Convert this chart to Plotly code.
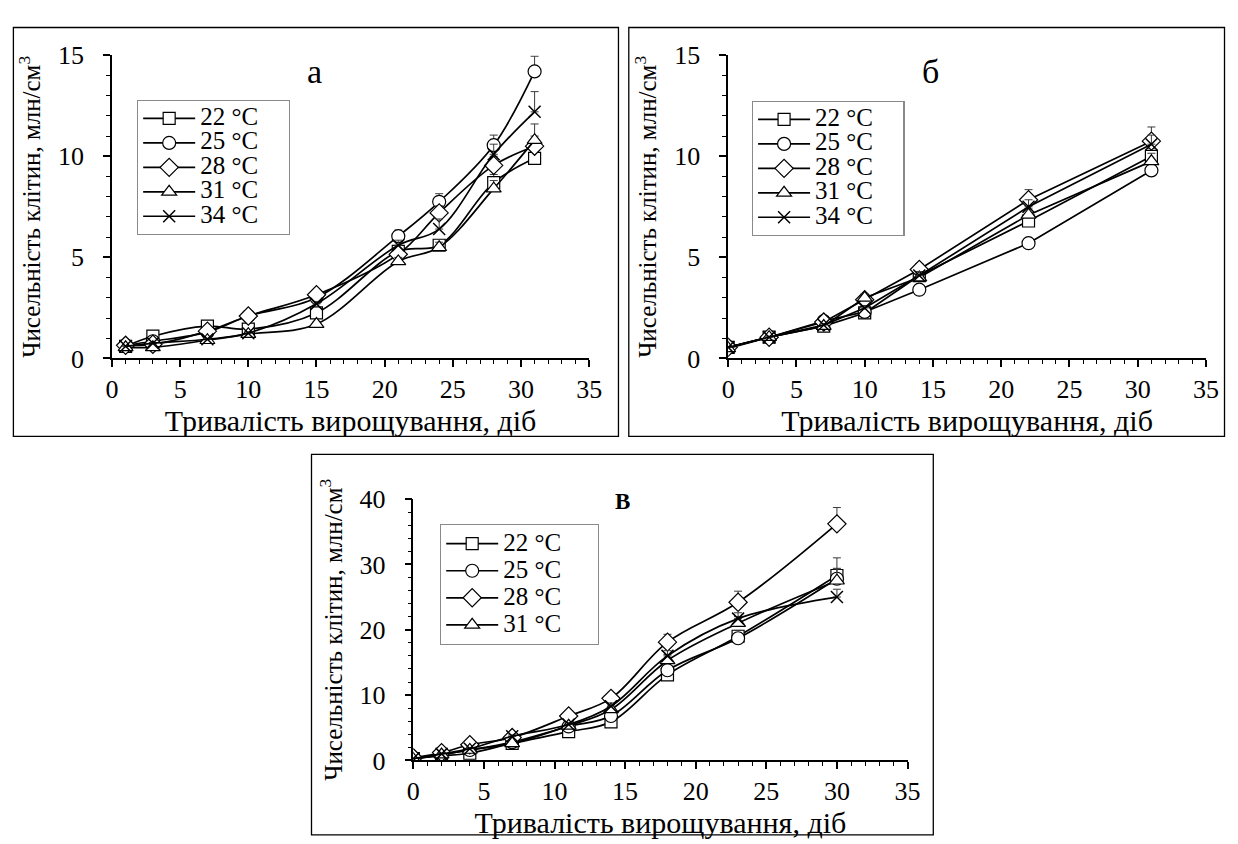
import plotly.graph_objects as go

# ---------------- data ----------------
temps = ["22 °C", "25 °C", "28 °C", "31 °C", "34 °C"]

# panel а
days_a = [1, 3, 7, 10, 15, 21, 24, 28, 31]
a_22 = [0.6, 1.1, 1.6, 1.45, 2.25, 5.3, 5.6, 8.7, 9.9]
a_25 = [0.65, 0.85, 1.3, 2.1, 3.0, 6.05, 7.75, 10.55, 14.2]
a_28 = [0.65, 0.7, 1.35, 2.1, 3.15, 5.15, 7.2, 9.55, 10.5]
a_31 = [0.55, 0.55, 0.9, 1.2, 1.7, 4.8, 5.5, 8.4, 10.8]
a_34 = [0.6, 0.75, 0.95, 1.25, 2.7, 5.6, 6.4, 10.1, 12.2]
a_err_22 = [0.03, 0.05, 0.08, 0.07, 0.1, 0.2, 0.25, 0.4, 0.3]
a_err_25 = [0.03, 0.05, 0.07, 0.1, 0.15, 0.3, 0.4, 0.5, 0.75]
a_err_28 = [0.03, 0.04, 0.07, 0.1, 0.15, 0.25, 0.35, 0.45, 0.5]
a_err_31 = [0.03, 0.03, 0.05, 0.06, 0.1, 0.2, 0.25, 0.4, 0.8]
a_err_34 = [0.03, 0.04, 0.05, 0.07, 0.12, 0.25, 0.5, 0.5, 1.0]

# panel б
days_b = [0, 3, 7, 10, 14, 22, 31]
b_22 = [0.55, 1.05, 1.6, 2.25, 4.1, 6.8, 10.0]
b_25 = [0.55, 1.05, 1.85, 2.3, 3.4, 5.7, 9.3]
b_28 = [0.55, 1.05, 1.8, 2.9, 4.4, 7.85, 10.75]
b_31 = [0.5, 1.05, 1.6, 3.0, 4.0, 7.1, 9.75]
b_34 = [0.55, 1.05, 1.65, 2.5, 4.1, 7.5, 10.6]
b_err_22 = [0.03, 0.05, 0.08, 0.1, 0.2, 0.3, 0.4]
b_err_25 = [0.03, 0.05, 0.08, 0.1, 0.15, 0.25, 0.35]
b_err_28 = [0.03, 0.05, 0.08, 0.15, 0.3, 0.5, 0.7]
b_err_31 = [0.03, 0.05, 0.08, 0.2, 0.2, 0.3, 0.4]
b_err_34 = [0.03, 0.05, 0.08, 0.12, 0.2, 0.35, 0.45]

# panel в
days_c = [0, 2, 4, 7, 11, 14, 18, 23, 30]
c_22 = [0.3, 0.7, 1.1, 2.6, 4.4, 5.9, 13.1, 19.0, 28.3]
c_25 = [0.3, 0.9, 1.6, 2.8, 5.2, 6.8, 13.8, 18.7, 27.8]
c_28 = [0.4, 1.2, 2.4, 3.5, 6.8, 9.5, 18.1, 24.2, 36.2]
c_31 = [0.2, 0.9, 1.6, 2.6, 5.3, 7.8, 15.3, 21.0, 27.5]
c_34 = [0.3, 1.0, 1.8, 3.7, 5.5, 8.3, 16.0, 21.7, 25.0]
c_err_22 = [0.05, 0.1, 0.15, 0.2, 0.3, 0.4, 0.7, 0.9, 2.7]
c_err_25 = [0.05, 0.1, 0.15, 0.2, 0.3, 0.4, 0.7, 0.8, 1.5]
c_err_28 = [0.05, 0.1, 0.2, 0.3, 0.4, 0.6, 1.2, 1.7, 2.5]
c_err_31 = [0.05, 0.1, 0.15, 0.2, 0.3, 0.5, 0.9, 1.0, 1.9]
c_err_34 = [0.05, 0.1, 0.15, 0.2, 0.3, 0.5, 0.8, 0.9, 1.2]

x_title = "Тривалість вирощування, діб"
y_title = "Чисельність клітин, млн/см<sup>3</sup>"
panel_labels = ["а", "б", "В"]

# ---------------- style ----------------
FONT = "Liberation Serif"
symbols = ["square", "circle", "diamond", "triangle-up", "x-thin"]
sizes = [12, 13, 14, 13, 12]

fig = go.Figure()

def legend_name(t, pad):
    # larger visible text, compact row height from the legend font
    return "<span style='font-size:25px'>" + t + "\u00a0" * pad + "</span>"

def add_series(xs, ys, errs, idx, xa, ya, legend, shape, pad, showlegend=True):
    sym = symbols[idx]
    if sym == "x-thin":
        marker = dict(symbol=sym, size=sizes[idx], color="black",
                      line=dict(color="black", width=1.5))
    else:
        marker = dict(symbol=sym, size=sizes[idx], color="white",
                      line=dict(color="black", width=1.2))
    fig.add_trace(go.Scatter(
        x=xs, y=ys, name=legend_name(temps[idx], pad), mode="lines+markers",
        line=dict(color="black", width=1.7, shape=shape),
        marker=marker,
        error_y=dict(type="data", array=errs, arrayminus=[0] * len(errs),
                     symmetric=False, color="#3a3a3a", thickness=1, width=4),
        xaxis=xa, yaxis=ya, legend=legend, showlegend=showlegend,
    ))

for i, (ys, es) in enumerate(zip([a_22, a_25, a_28, a_31, a_34],
                                 [a_err_22, a_err_25, a_err_28, a_err_31, a_err_34])):
    add_series(days_a, ys, es, i, "x", "y", "legend", "spline", 4)

for i, (ys, es) in enumerate(zip([b_22, b_25, b_28, b_31, b_34],
                                 [b_err_22, b_err_25, b_err_28, b_err_31, b_err_34])):
    add_series(days_b, ys, es, i, "x2", "y2", "legend2", "linear", 4)

for i, (ys, es) in enumerate(zip([c_22, c_25, c_28, c_31, c_34],
                                 [c_err_22, c_err_25, c_err_28, c_err_31, c_err_34])):
    add_series(days_c, ys, es, i, "x3", "y3", "legend3", "spline", 5, showlegend=(i < 4))

W, H = 1238, 844

def px(v):
    return v / W

def py(v):
    return 1 - v / H

def xaxis(domain, anchor):
    return dict(domain=domain, anchor=anchor, range=[0, 35], dtick=5, tick0=0,
                showline=True, linecolor="black", linewidth=1.5,
                ticks="outside", ticklen=7, tickwidth=1.5, tickcolor="black",
                minor=dict(dtick=1, ticks="outside", ticklen=4, tickwidth=1, tickcolor="black"),
                showgrid=False, zeroline=False,
                tickfont=dict(family=FONT, size=26, color="black"),
                ticklabelstandoff=0,
                title=dict(text=x_title, font=dict(family=FONT, size=30, color="black"),
                           standoff=0))

def yaxis(domain, anchor, top, dt, mdt):
    return dict(domain=domain, anchor=anchor, range=[0, top], dtick=dt, tick0=0,
                showline=True, linecolor="black", linewidth=1.5,
                ticks="outside", ticklen=7, tickwidth=1.5, tickcolor="black",
                minor=dict(dtick=mdt, ticks="outside", ticklen=4, tickwidth=1, tickcolor="black"),
                showgrid=False, zeroline=False,
                tickfont=dict(family=FONT, size=26, color="black"),
                ticklabelstandoff=14,
                title=dict(text=y_title, font=dict(family=FONT, size=25, color="black"),
                           standoff=10))

def legend_cfg(x, y, fsize):
    return dict(x=x, y=y, bgcolor="white", bordercolor="#8a8a8a", borderwidth=1.3,
                font=dict(family=FONT, size=fsize, color="black"),
                xanchor="left", yanchor="top", traceorder="normal",
                itemwidth=52, itemclick=False)

fig.update_layout(
    width=W, height=H,
    margin=dict(l=0, r=0, t=0, b=0),
    paper_bgcolor="white", plot_bgcolor="white",
    font=dict(family=FONT, color="black"),
    xaxis=xaxis([px(106.7), px(591.7)], "y"),
    yaxis=yaxis([py(356.7), py(42.7)], "x", 15, 5, 1),
    xaxis2=xaxis([px(733), px(1218.7)], "y2"),
    yaxis2=yaxis([py(356.7), py(42.7)], "x2", 15, 5, 1),
    xaxis3=xaxis([px(413), px(915.3)], "y3"),
    yaxis3=yaxis([py(773), py(502.3)], "x3", 40, 10, 2),
    legend=legend_cfg(px(132), py(89), 16.5),
    legend2=legend_cfg(px(757), py(90), 16.5),
    legend3=legend_cfg(px(440), py(528), 18.5),
    showlegend=True,
)

# panel frames
frames = [(6.5, 14, 621.5, 437.5), (632, 14, 1237.5, 437.5), (309.5, 456, 941.5, 850)]
for x0, y0, x1, y1 in frames:
    fig.add_shape(type="rect", xref="paper", yref="paper",
                  x0=px(x0), x1=px(x1), y0=py(y1), y1=py(y0),
                  line=dict(color="black", width=1.3), fillcolor="rgba(0,0,0,0)")

# panel labels
label_pos = [(313, 60, 34, False), (939, 60, 34, False), (626, 505, 23, True)]
for lab, (lx, ly, fs, bold) in zip(panel_labels, label_pos):
    fig.add_annotation(x=px(lx), y=py(ly), xref="paper", yref="paper",
                       text=("<b>" + lab + "</b>") if bold else lab,
                       xanchor="center", yanchor="middle", showarrow=False,
                       font=dict(family=FONT, size=fs, color="black"))

fig.write_html("out.html")
